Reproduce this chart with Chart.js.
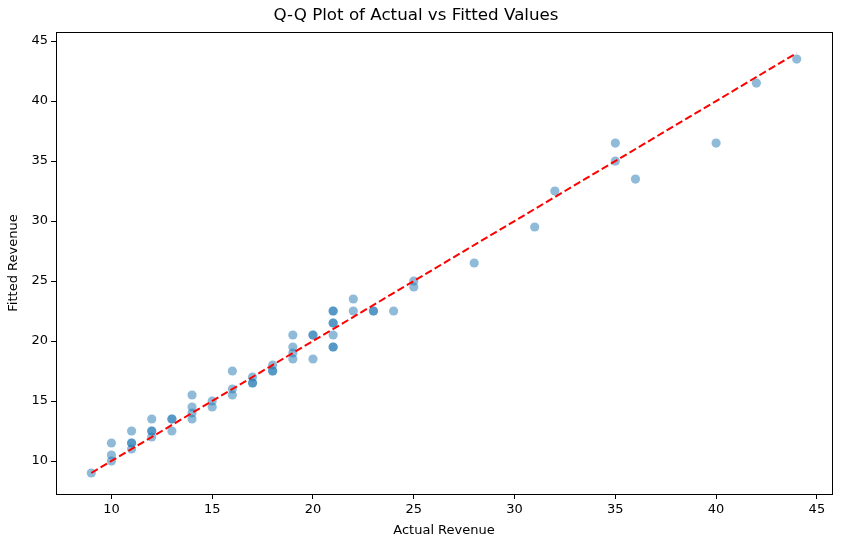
<!DOCTYPE html>
<html>
<head>
<meta charset="utf-8">
<script src="https://cdn.jsdelivr.net/npm/chart.js@4.4.1/dist/chart.umd.min.js"></script>
<style>
    body { margin: 0; background: #fff; }
    #wrap { width: 841px; height: 547px; }
</style>
</head>
<body>
<div id="wrap"><canvas id="qqChart"></canvas></div>
<script>
// Actual vs fitted revenue
const actualRevenue = [
    9,
    10, 10, 10,
    11, 11, 11, 11,
    12, 12, 12, 12,
    13, 13, 13,
    14, 14, 14, 14,
    15, 15,
    16, 16, 16,
    17, 17, 17,
    18, 18, 18,
    19, 19, 19, 19,
    20, 20, 20,
    21, 21, 21, 21, 21, 21, 21,
    22, 22,
    23, 23,
    24,
    25, 25,
    28, 31, 32,
    35, 35,
    36, 40, 42, 44
];
const fittedRevenue = [
    9,
    11.5, 10.5, 10,
    12.5, 11.5, 11.5, 11,
    13.5, 12.5, 12.5, 12,
    13.5, 13.5, 12.5,
    15.5, 14.5, 14, 13.5,
    15, 14.5,
    17.5, 16, 15.5,
    17, 16.5, 16.5,
    18, 17.5, 17.5,
    20.5, 19.5, 19, 18.5,
    20.5, 20.5, 18.5,
    22.5, 22.5, 21.5, 21.5, 20.5, 19.5, 19.5,
    23.5, 22.5,
    22.5, 22.5,
    22.5,
    25, 24.5,
    26.5, 29.5, 32.5,
    36.5, 35,
    33.5, 36.5, 41.5, 43.5
];
const axisTicks = [10, 15, 20, 25, 30, 35, 40, 45];

const scatterPoints = actualRevenue.map((x, i) => ({ x: x, y: fittedRevenue[i] }));

// 45 degree reference line over the range of the data
const lo = Math.min(...actualRevenue, ...fittedRevenue);
const hi = Math.max(...actualRevenue, ...fittedRevenue);
const refLine = [{ x: lo, y: lo }, { x: hi, y: hi }];
const pad = (hi - lo) * 0.05;

Chart.defaults.font.family = 'DejaVu Sans';
Chart.defaults.color = '#000';

// frame around the plot area (top and right spines)
const framePlugin = {
    id: 'frame',
    afterDraw(chart) {
        const a = chart.chartArea;
        const c = chart.ctx;
        c.save();
        c.strokeStyle = '#000';
        c.lineWidth = 1;
        c.strokeRect(Math.round(a.left) + 0.5, Math.round(a.top) + 0.5,
            Math.round(a.right - a.left), Math.round(a.bottom - a.top));
        c.restore();
    }
};

function fixTicks(scale) {
    scale.ticks = axisTicks.map(v => ({ value: v }));
}

const ctx = document.getElementById('qqChart').getContext('2d');
new Chart(ctx, {
    type: 'scatter',
    data: {
        datasets: [
            {
                type: 'line',
                label: 'y = x',
                data: refLine,
                borderColor: 'red',
                borderWidth: 2,
                borderDash: [7.5, 3.3],
                pointRadius: 0,
                fill: false,
                order: 0
            },
            {
                label: 'Fitted',
                data: scatterPoints,
                backgroundColor: 'rgba(31, 119, 180, 0.5)',
                borderColor: 'rgba(31, 119, 180, 0.5)',
                borderWidth: 0,
                pointRadius: 4.6,
                order: 1
            }
        ]
    },
    options: {
        responsive: true,
        maintainAspectRatio: false,
        animation: false,
        layout: { padding: { left: 0, right: 9, top: 0, bottom: 0 } },
        plugins: {
            legend: { display: false },
            tooltip: { enabled: false },
            title: {
                display: true,
                text: 'Q-Q Plot of Actual vs Fitted Values',
                font: { size: 16.7, weight: 'normal' },
                padding: { top: 6, bottom: 6 }
            }
        },
        scales: {
            x: {
                type: 'linear',
                min: lo - pad,
                max: hi + pad,
                afterBuildTicks: fixTicks,
                afterFit(scale) { scale.height = 53; },
                grid: { display: true, drawOnChartArea: false, drawTicks: true, tickLength: 5, color: '#000' },
                border: { display: true, color: '#000' },
                ticks: { font: { size: 13 }, padding: 3 },
                title: { display: true, text: 'Actual Revenue', font: { size: 13 }, padding: { top: 2, bottom: 9 } }
            },
            y: {
                type: 'linear',
                min: lo - pad,
                max: hi + pad,
                afterBuildTicks: fixTicks,
                afterFit(scale) { scale.width = 56; },
                grid: { display: true, drawOnChartArea: false, drawTicks: true, tickLength: 5, color: '#000' },
                border: { display: true, color: '#000' },
                ticks: { font: { size: 13 }, padding: 3 },
                title: { display: true, text: 'Fitted Revenue', font: { size: 13 }, padding: 6 }
            }
        }
    },
    plugins: [framePlugin]
});
</script>
</body>
</html>
